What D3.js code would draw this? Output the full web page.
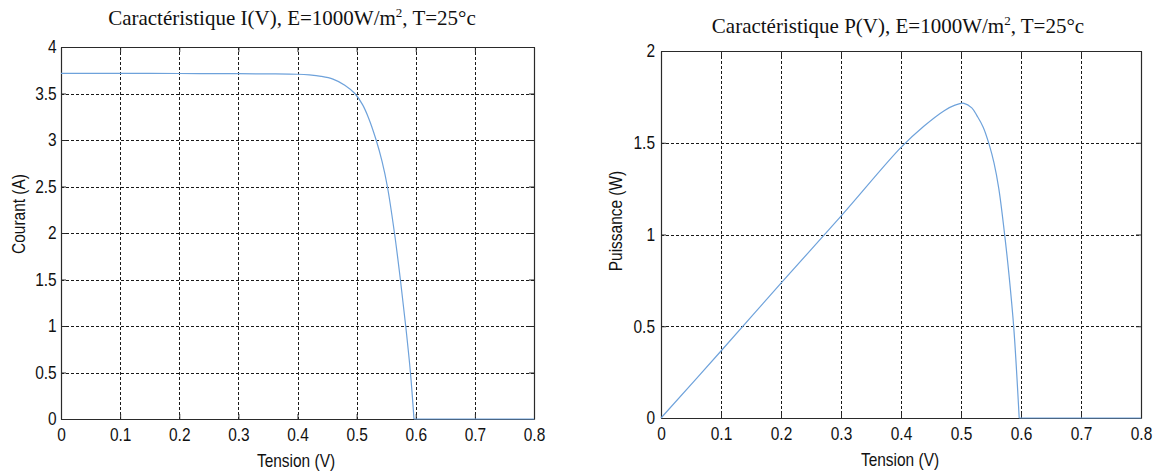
<!DOCTYPE html>
<html>
<head>
<meta charset="utf-8">
<script src="https://cdn.jsdelivr.net/npm/d3@7/dist/d3.min.js"></script>
<style>
  html, body { margin: 0; padding: 0; background: #fff; }
  svg { display: block; }
  .tick text { font-family: "Liberation Sans", Arial, sans-serif; font-size: 18px; fill: #111; }
  .lbl { font-family: "Liberation Sans", Arial, sans-serif; font-size: 18px; fill: #111; }
  .ttl { font-family: "Liberation Serif", "Times New Roman", serif; font-size: 21px; fill: #111; }
</style>
</head>
<body>
<svg id="chart" width="1161" height="475"></svg>
<script>
// Solar cell characteristics at E = 1000 W/m², T = 25 °C

// I(V) curve
const ivVoltage = [0, 0.1, 0.2, 0.3, 0.35, 0.4, 0.42, 0.44, 0.46, 0.48, 0.497, 0.51, 0.52, 0.533, 0.543, 0.552, 0.564, 0.574, 0.583, 0.591, 0.597, 0.7, 0.8];
const ivCurrent = [3.717, 3.716, 3.715, 3.713, 3.711, 3.707, 3.70, 3.685, 3.655, 3.59, 3.50, 3.38, 3.24, 3.00, 2.77, 2.50, 2.00, 1.50, 1.00, 0.50, 0.00, 0, 0];

// P(V) curve
const pvVoltage = [0, 0.1, 0.2, 0.3, 0.4, 0.438, 0.472, 0.49, 0.505, 0.518, 0.527, 0.537, 0.547, 0.555, 0.563, 0.572, 0.58, 0.588, 0.597, 0.7, 0.8];
const pvPower   = [0, 0.365, 0.735, 1.10, 1.475, 1.59, 1.675, 1.705, 1.715, 1.69, 1.645, 1.585, 1.49, 1.39, 1.25, 1.02, 0.78, 0.49, 0, 0, 0];

// Ticks
const xTicks = [0, 0.1, 0.2, 0.3, 0.4, 0.5, 0.6, 0.7, 0.8];
const xTickLabels = ["0", "0.1", "0.2", "0.3", "0.4", "0.5", "0.6", "0.7", "0.8"];
const iTicks = [0, 0.5, 1, 1.5, 2, 2.5, 3, 3.5, 4];
const iTickLabels = ["0", "0.5", "1", "1.5", "2", "2.5", "3", "3.5", "4"];
const pTicks = [0, 0.5, 1, 1.5, 2];
const pTickLabels = ["0", "0.5", "1", "1.5", "2"];

// Texts
const titleI = ["Caractéristique I(V), E=1000W/m", "2", ", T=25°c"];
const titleP = ["Caractéristique P(V), E=1000W/m", "2", ", T=25°c"];
const xLabel = "Tension (V)";
const iLabel = "Courant (A)";
const pLabel = "Puissance (W)";

const svg = d3.select("#chart");
const lineColor = "#6ea2db";
const squeeze = 0.86;

function panel(cfg) {
  const x = d3.scaleLinear().domain([0, 0.8]).range([cfg.left, cfg.right]);
  const y = d3.scaleLinear().domain([0, cfg.yMax]).range([cfg.bottom, cfg.top]);
  const g = svg.append("g");

  // dotted grid
  const grid = g.append("g").attr("stroke", "#1a1a1a").attr("stroke-width", 1)
    .attr("stroke-dasharray", "3,2").attr("shape-rendering", "crispEdges");
  grid.selectAll("line.v").data(xTicks.slice(1, -1)).join("line")
    .attr("x1", d => Math.round(x(d)) + 0.5).attr("x2", d => Math.round(x(d)) + 0.5)
    .attr("y1", cfg.top).attr("y2", cfg.bottom);
  grid.selectAll("line.h").data(cfg.yTicks.slice(1, -1)).join("line")
    .attr("y1", d => Math.round(y(d)) + 0.5).attr("y2", d => Math.round(y(d)) + 0.5)
    .attr("x1", cfg.left).attr("x2", cfg.right);

  // axes (inward ticks on all four sides)
  const fmtX = d => xTickLabels[xTicks.indexOf(d)];
  const fmtY = d => cfg.yTickLabels[cfg.yTicks.indexOf(d)];
  const ax = [
    g.append("g").attr("transform", `translate(0,${cfg.bottom})`)
      .call(d3.axisBottom(x).tickValues(xTicks).tickFormat(fmtX).tickSizeInner(-5).tickSizeOuter(0).tickPadding(9)),
    g.append("g").attr("transform", `translate(0,${cfg.top})`)
      .call(d3.axisTop(x).tickValues(xTicks).tickFormat("").tickSizeInner(-5).tickSizeOuter(0)),
    g.append("g").attr("transform", `translate(${cfg.left},0)`)
      .call(d3.axisLeft(y).tickValues(cfg.yTicks).tickFormat(fmtY).tickSizeInner(-5).tickSizeOuter(0).tickPadding(cfg.yPad)),
    g.append("g").attr("transform", `translate(${cfg.right},0)`)
      .call(d3.axisRight(y).tickValues(cfg.yTicks).tickFormat("").tickSizeInner(-5).tickSizeOuter(0))
  ];
  ax.forEach(a => {
    a.select(".domain").attr("stroke", "#2a2a2a").attr("stroke-width", 1.2);
    a.selectAll(".tick line").attr("stroke", "#2a2a2a");
    a.attr("font-family", null).attr("font-size", null);
  });
  ax[0].selectAll(".tick text").attr("transform", `scale(${squeeze},1)`);
  ax[2].selectAll(".tick text").attr("transform", `scale(${squeeze},1)`);

  // curve: smooth part down to the zero crossing, then flat along zero
  const pts = cfg.xs.map((v, i) => [v, cfg.ys[i]]);
  const zeroIdx = cfg.ys.findIndex((v, i) => i > 0 && v === 0);
  const line = d3.line().x(d => x(d[0])).y(d => y(d[1]));
  g.append("path").datum(pts.slice(0, zeroIdx + 1))
    .attr("fill", "none").attr("stroke", lineColor).attr("stroke-width", 1.2)
    .attr("d", line.curve(d3.curveCatmullRom.alpha(0.5)));
  g.append("path").datum(pts.slice(zeroIdx))
    .attr("fill", "none").attr("stroke", lineColor).attr("stroke-width", 1.2)
    .attr("d", line.curve(d3.curveLinear));

  // title with superscript
  const t = g.append("text").attr("class", "ttl").attr("text-anchor", "middle")
    .attr("x", cfg.titleX).attr("y", cfg.titleY);
  t.append("tspan").text(cfg.title[0]);
  t.append("tspan").attr("dy", -8).attr("font-size", 13).text(cfg.title[1]);
  t.append("tspan").attr("dy", 8).text(cfg.title[2]);

  // axis labels
  g.append("text").attr("class", "lbl").attr("text-anchor", "middle")
    .attr("transform", `translate(${cfg.xLabelX},${cfg.xLabelY}) scale(${squeeze},1)`)
    .text(xLabel);
  g.append("text").attr("class", "lbl").attr("text-anchor", "middle")
    .attr("transform", `translate(${cfg.yLabelX},${cfg.yLabelY}) rotate(-90) scale(${squeeze},1)`)
    .text(cfg.yLabel);
}

panel({
  left: 61, right: 534, top: 47, bottom: 419, yMax: 4,
  yTicks: iTicks, yTickLabels: iTickLabels, yPad: 5,
  xs: ivVoltage, ys: ivCurrent,
  title: titleI, titleX: 292, titleY: 25,
  xLabelX: 296, xLabelY: 467,
  yLabel: iLabel, yLabelX: 25, yLabelY: 214
});

panel({
  left: 661, right: 1141, top: 51, bottom: 418, yMax: 2,
  yTicks: pTicks, yTickLabels: pTickLabels, yPad: 7,
  xs: pvVoltage, ys: pvPower,
  title: titleP, titleX: 898, titleY: 33,
  xLabelX: 900, xLabelY: 466,
  yLabel: pLabel, yLabelX: 622, yLabelY: 221
});
</script>
</body>
</html>
